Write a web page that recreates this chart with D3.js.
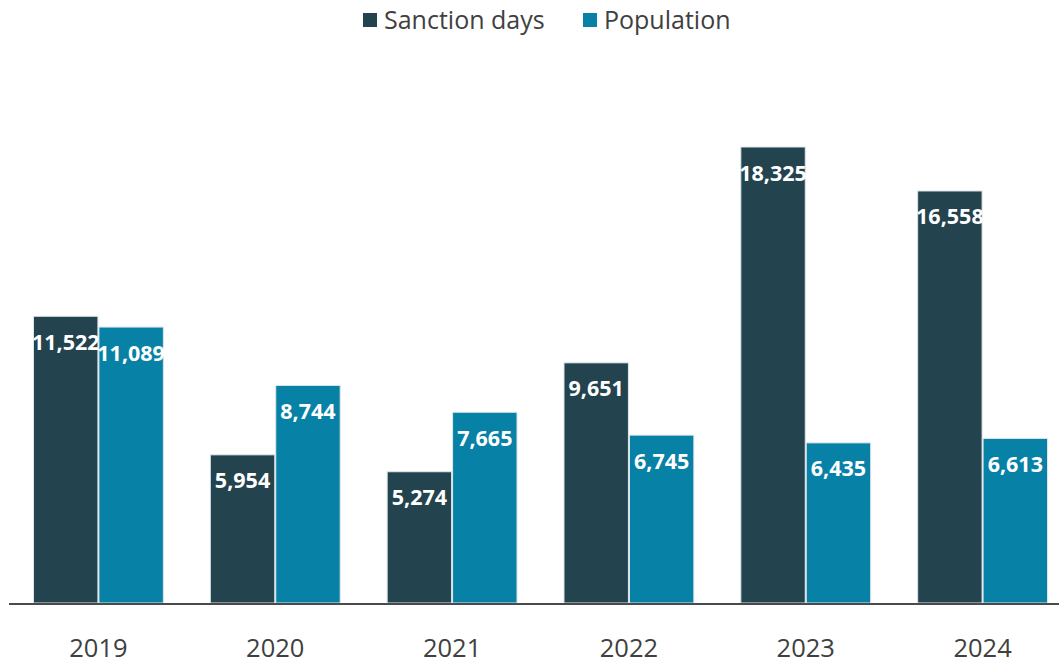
<!DOCTYPE html>
<html>
<head>
<meta charset="utf-8">
<script src="https://cdn.jsdelivr.net/npm/d3@7"></script>
<style>
  html, body { margin: 0; padding: 0; background: #fff; }
  svg { display: block; }
</style>
</head>
<body>
<svg id="chart" width="1059" height="662"></svg>
<script>
// Yearly totals
const years = ["2019", "2020", "2021", "2022", "2023", "2024"];
const sanctionDays = [11522, 5954, 5274, 9651, 18325, 16558];
const population = [11089, 8744, 7665, 6745, 6435, 6613];
const seriesNames = ["Sanction days", "Population"];
const seriesColors = ["#23434f", "#0781a6"];

const W = 1059, H = 662;
const baseY = 603;
const svg = d3.select("#chart");

const rows = years.map((y, i) => ({ year: y, values: [sanctionDays[i], population[i]] }));

const x0 = d3.scaleBand().domain(years).range([10, 1071]).paddingInner(0.26).paddingOuter(0.13);
const x1 = d3.scaleBand().domain(seriesNames).range([0, x0.bandwidth()]).padding(0);
const y = d3.scaleLinear().domain([0, 18325]).range([baseY, 147]);
const fmt = d3.format(",");

const groups = svg.append("g").selectAll("g")
  .data(rows).join("g")
  .attr("transform", d => `translate(${x0(d.year)},0)`);

const cells = groups.selectAll("g.bar")
  .data(d => d.values.map((v, k) => ({ v, k })))
  .join("g").attr("class", "bar");

cells.append("rect")
  .attr("x", d => x1(seriesNames[d.k]) + 0.5)
  .attr("width", x1.bandwidth() - 1)
  .attr("y", d => y(d.v))
  .attr("height", d => baseY - y(d.v))
  .attr("fill", d => seriesColors[d.k])
  .attr("stroke", "#dfe6ea")
  .attr("stroke-width", 1);

cells.append("text")
  .attr("x", d => x1(seriesNames[d.k]) + x1.bandwidth() / 2)
  .attr("y", d => y(d.v) + 26)
  .attr("dy", "0.35em")
  .attr("text-anchor", "middle")
  .attr("fill", "#fff")
  .attr("font-family", "'Open Sans', sans-serif")
  .attr("font-weight", 700)
  .attr("font-size", 21.5)
  .text(d => fmt(d.v));

// Category axis
const axis = svg.append("g")
  .attr("transform", `translate(0,${baseY})`)
  .call(d3.axisBottom(x0).tickSize(0).tickPadding(36).tickSizeOuter(0));
axis.select(".domain").remove();
axis.selectAll("text")
  .attr("font-family", "'Open Sans', sans-serif")
  .attr("font-size", 25.5)
  .attr("fill", "#404040");

svg.append("line")
  .attr("x1", 9).attr("x2", W)
  .attr("y1", baseY + 1).attr("y2", baseY + 1)
  .attr("stroke", "#4a4a4a").attr("stroke-width", 2);

// Legend
const legendX = [363, 583];
const legend = svg.append("g").selectAll("g")
  .data(seriesNames).join("g")
  .attr("transform", (d, i) => `translate(${legendX[i]},0)`);
legend.append("rect")
  .attr("x", 0).attr("y", 13).attr("width", 14).attr("height", 14)
  .attr("fill", (d, i) => seriesColors[i]);
legend.append("text")
  .attr("x", 21).attr("y", 20).attr("dy", "0.35em")
  .attr("font-family", "'Open Sans', sans-serif")
  .attr("font-size", 25)
  .attr("fill", "#404040")
  .text(d => d);
</script>
</body>
</html>
